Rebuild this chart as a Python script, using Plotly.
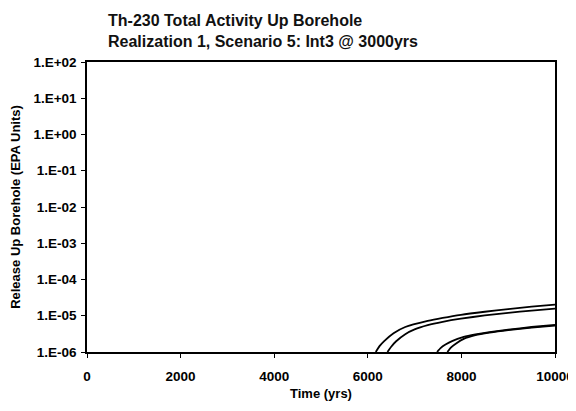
import plotly.graph_objects as go

# --- Data ---
t1 = [6170, 6250, 6350, 6550, 6800, 7280, 7600, 7990, 8500, 9000, 9500, 10000]
v1 = [1.0e-6, 1.45e-6, 2.0e-6, 3.3e-6, 4.9e-6, 7.2e-6, 8.7e-6, 1.06e-5, 1.29e-5, 1.53e-5, 1.79e-5, 2.04e-5]

t2 = [6420, 6500, 6600, 6800, 7000, 7280, 7600, 7990, 8500, 9000, 9500, 10000]
v2 = [1.0e-6, 1.4e-6, 1.95e-6, 3.1e-6, 4.2e-6, 5.5e-6, 6.8e-6, 8.3e-6, 1.02e-5, 1.2e-5, 1.39e-5, 1.58e-5]

t3 = [7480, 7560, 7660, 7800, 8050, 8300, 8600, 9000, 9500, 10000]
v3 = [1.0e-6, 1.3e-6, 1.6e-6, 2.0e-6, 2.6e-6, 3.05e-6, 3.53e-6, 4.13e-6, 4.89e-6, 5.62e-6]

t4 = [7700, 7780, 7880, 8050, 8300, 8600, 9000, 9500, 10000]
v4 = [1.0e-6, 1.35e-6, 1.7e-6, 2.3e-6, 2.9e-6, 3.42e-6, 4.03e-6, 4.71e-6, 5.37e-6]

y_ticks = [1e-6, 1e-5, 1e-4, 1e-3, 1e-2, 1e-1, 1e0, 1e1, 1e2]
y_labels = ["1.E-06", "1.E-05", "1.E-04", "1.E-03", "1.E-02",
            "1.E-01", "1.E+00", "1.E+01", "1.E+02"]
x_ticks = [0, 2000, 4000, 6000, 8000, 10000]
x_labels = ["0", "2000", "4000", "6000", "8000", "10000"]

# page body has an 8px margin, so the figure is shrunk by that much
fig = go.Figure()
for t, v in [(t1, v1), (t2, v2), (t3, v3), (t4, v4)]:
    fig.add_trace(go.Scatter(x=t, y=v, mode="lines", line=dict(color="black", width=1.8),
                             line_shape="spline", line_smoothing=0.5, showlegend=False))

fig.update_layout(
    width=568, height=403,
    margin=dict(l=79, r=21, t=54, b=59),
    paper_bgcolor="white", plot_bgcolor="white",
    font=dict(family="Liberation Sans, Arial", color="black"),
    title=dict(text="<b>Th-230 Total Activity Up Borehole<br>Realization 1, Scenario 5: Int3 @ 3000yrs</b>",
               x=100 / 568, xanchor="left", y=1 - 18 / 403, yanchor="middle",
               font=dict(size=16, color="#111")),
)
fig.update_xaxes(range=[0, 10000], tickvals=x_ticks, ticktext=[f"<b>{s}</b>" for s in x_labels],
                 showgrid=False, zeroline=False,
                 showline=True, linecolor="black", linewidth=1.5, mirror=True,
                 ticks="outside", ticklen=4, tickcolor="black", automargin=False,
                 ticklabelstandoff=7,
                 tickfont=dict(size=13.5), title=dict(text="<b>Time (yrs)</b>", font=dict(size=13), standoff=6))
fig.update_yaxes(type="log", range=[-6, 2], tickvals=y_ticks, ticktext=[f"<b>{s}</b>" for s in y_labels],
                 showgrid=False, zeroline=False, showline=True, linecolor="black", linewidth=1.5,
                 mirror=True, ticks="outside", ticklen=4, tickcolor="black", automargin=False,
                 ticklabelstandoff=2,
                 tickfont=dict(size=13.5),
                 title=dict(text="<b>Release Up Borehole (EPA Units)</b>", font=dict(size=13), standoff=10))

fig.write_html("out.html")
